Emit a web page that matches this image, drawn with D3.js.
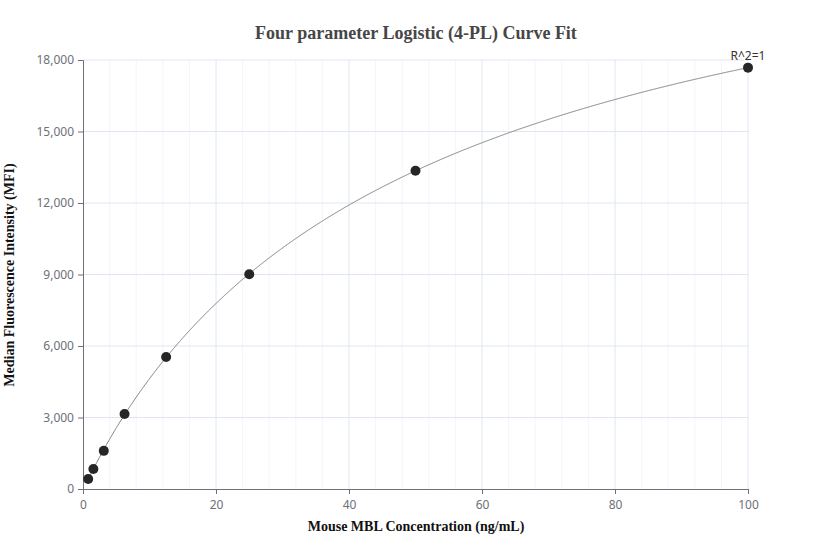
<!DOCTYPE html>
<html><head><meta charset="utf-8">
<script src="https://cdn.jsdelivr.net/npm/d3@7"></script>
<style>body{margin:0;background:#fff}svg{display:block}</style>
</head><body>
<svg id="c" width="832" height="560"></svg>
<script>
const concentrations = [0.78125, 1.5625, 3.125, 6.25, 12.5, 25, 50, 100];
const mfiValues = [420, 840, 1600, 3150, 5540, 9010, 13355, 17680];
const xTicks = [0, 20, 40, 60, 80, 100];
const yTicks = [0, 3000, 6000, 9000, 12000, 15000, 18000];
const titleText = "Four parameter Logistic (4-PL) Curve Fit";
const xTitle = "Mouse MBL Concentration (ng/mL)";
const yTitle = "Median Fluorescence Intensity (MFI)";
const r2Label = "R^2=1";

// 4PL model fitted to the data (Nelder-Mead least squares)
function fourPL(p, x){ const [a,b,c,d]=p; return d + (a-d)/(1+Math.pow(x/c,b)); }
function sse(p){ if(p[2]<=0||p[1]<=0) return 1e30; let s=0; concentrations.forEach((x,i)=>{const e=fourPL(p,x)-mfiValues[i]; s+=e*e;}); return s; }
function nelderMead(f, x0, iters){
  const n=x0.length; let pts=[x0.slice()];
  for(let i=0;i<n;i++){const p=x0.slice(); p[i]=p[i]*1.2+(p[i]===0?100:0); pts.push(p);}
  let vals=pts.map(f);
  for(let k=0;k<iters;k++){
    const idx=d3.range(n+1).sort((i,j)=>vals[i]-vals[j]);
    pts=idx.map(i=>pts[i]); vals=idx.map(i=>vals[i]);
    const cen=d3.range(n).map(j=>d3.mean(pts.slice(0,n),p=>p[j]));
    const w=pts[n];
    const xr=cen.map((c,j)=>c+(c-w[j])); const fr=f(xr);
    if(fr<vals[0]){const xe=cen.map((c,j)=>c+2*(c-w[j])); const fe=f(xe); if(fe<fr){pts[n]=xe;vals[n]=fe;}else{pts[n]=xr;vals[n]=fr;}}
    else if(fr<vals[n-1]){pts[n]=xr;vals[n]=fr;}
    else{const xc=cen.map((c,j)=>c+0.5*(w[j]-c)); const fc=f(xc);
      if(fc<vals[n]){pts[n]=xc;vals[n]=fc;}
      else{for(let i=1;i<=n;i++){pts[i]=pts[i].map((v,j)=>pts[0][j]+0.5*(v-pts[0][j])); vals[i]=f(pts[i]);}}}
  }
  const best=d3.minIndex(vals); return pts[best];
}
const params = nelderMead(sse, [0, 1, 48, 26000], 4000);

const svg = d3.select("#c");
const m = {l:83, r:84, t:60, b:71};
const W=832, H=560;
const x = d3.scaleLinear().domain([0,100]).range([m.l, W-m.r]);
const y = d3.scaleLinear().domain([0,18000]).range([H-m.b, m.t]);

// minor vertical grid
svg.append("g").selectAll("line").data(d3.range(0,101,4).filter(v=>v%20!==0)).join("line")
  .attr("x1",d=>x(d)).attr("x2",d=>x(d)).attr("y1",y(0)).attr("y2",y(18000))
  .attr("stroke","#f3f5f9").attr("stroke-width",1);
// major grid
svg.append("g").selectAll("line").data(xTicks.filter(v=>v>0)).join("line")
  .attr("x1",d=>x(d)).attr("x2",d=>x(d)).attr("y1",y(0)).attr("y2",y(18000))
  .attr("stroke","#e0e6f1").attr("stroke-width",1);
svg.append("g").selectAll("line").data(yTicks.filter(v=>v>0)).join("line")
  .attr("x1",x(0)).attr("x2",x(100)).attr("y1",d=>y(d)).attr("y2",d=>y(d))
  .attr("stroke","#e0e6f1").attr("stroke-width",1);

const axisColor="#6e7079";
const fmt=d3.format(",");
const gx = svg.append("g").attr("transform",`translate(0,${y(0)})`)
  .call(d3.axisBottom(x).tickValues(xTicks).tickSize(5).tickPadding(6).tickFormat(d3.format("d")));
const gy = svg.append("g").attr("transform",`translate(${x(0)},0)`)
  .call(d3.axisLeft(y).tickValues(yTicks).tickSize(5).tickPadding(4).tickFormat(fmt));
[gx,gy].forEach(g=>{
  g.select(".domain").attr("stroke",axisColor);
  g.selectAll(".tick line").attr("stroke",axisColor);
  g.selectAll(".tick text").attr("fill",axisColor).style("font-family","'Noto Sans', 'Open Sans', sans-serif").style("font-size","12px");
});

// fitted curve
const xs = d3.range(0, 1001).map(i=>concentrations[0] + (100-concentrations[0])*i/1000);
svg.append("path").datum(xs)
  .attr("d", d3.line().x(d=>x(d)).y(d=>y(fourPL(params,d))))
  .attr("fill","none").attr("stroke","#808080").attr("stroke-width",1);

svg.append("g").selectAll("circle").data(concentrations).join("circle")
  .attr("cx",d=>x(d)).attr("cy",(d,i)=>y(mfiValues[i])).attr("r",5)
  .attr("fill","#262626");

svg.append("text").attr("x",x(100)).attr("y",y(mfiValues[7])-8).attr("text-anchor","middle")
  .attr("fill","#333").style("font-family","'Noto Sans', 'Open Sans', sans-serif").style("font-size","12px").text(r2Label);

svg.append("text").attr("x",416).attr("y",39).attr("text-anchor","middle")
  .attr("fill","#464646").style("font-family","'Liberation Serif', serif").style("font-weight","bold").style("font-size","18px").text(titleText);
svg.append("text").attr("x",416).attr("y",531).attr("text-anchor","middle")
  .attr("fill","#111").style("font-family","'Liberation Serif', serif").style("font-weight","bold").style("font-size","14px").text(xTitle);
svg.append("text").attr("transform",`translate(14,${275}) rotate(-90)`).attr("text-anchor","middle")
  .attr("fill","#111").style("font-family","'Liberation Serif', serif").style("font-weight","bold").style("font-size","14px").text(yTitle);
</script>
</body></html>
